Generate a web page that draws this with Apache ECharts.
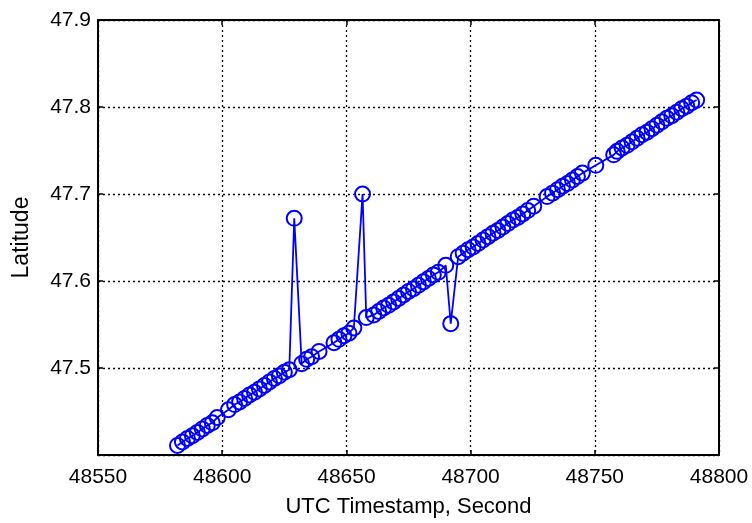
<!DOCTYPE html>
<html>
<head>
<meta charset="utf-8">
<script src="https://cdn.jsdelivr.net/npm/echarts@6/dist/echarts.min.js"></script>
<style>html,body{margin:0;padding:0;background:#fff}#c{width:752px;height:523px}</style>
</head>
<body>
<div id="c"></div>
<script>
// Data (UTC timestamp in seconds, latitude in degrees)
const timestamps = [48582,48584,48586,48588,48590,48592,48594,48596,48598,48602.5,48605,48607,48609,48611,48613,48615,48617,48619,48621,48623,48625,48627,48629,48632,48634,48636,48639,48645,48647,48649,48651,48653,48656.5,48658,48661,48663,48665,48667,48669,48671,48673,48675,48677,48679,48681,48683,48685,48687,48690,48692,48695,48697,48699,48701,48703,48705,48707,48709,48711,48713,48715,48717,48719,48721,48723,48725.4,48730.8,48733,48735,48737,48739,48741,48743,48745,48750.4,48757.6,48759,48761,48763,48765,48767,48769,48771,48773,48775,48777,48779,48781,48783,48785,48787,48789,48791];
const latitudes = [47.411,47.415,47.419,47.422,47.426,47.430,47.434,47.437,47.443,47.452,47.458,47.461,47.465,47.469,47.472,47.476,47.480,47.484,47.488,47.491,47.495,47.498,47.672,47.505,47.510,47.513,47.519,47.529,47.533,47.537,47.540,47.546,47.700,47.558,47.561,47.565,47.569,47.572,47.576,47.580,47.584,47.588,47.591,47.595,47.599,47.603,47.607,47.610,47.618,47.551,47.628,47.632,47.636,47.639,47.643,47.647,47.651,47.655,47.658,47.662,47.666,47.670,47.673,47.677,47.681,47.686,47.697,47.701,47.705,47.709,47.712,47.716,47.720,47.724,47.733,47.745,47.749,47.753,47.756,47.760,47.764,47.768,47.771,47.775,47.779,47.783,47.787,47.790,47.794,47.798,47.801,47.805,47.808];
const xTicks = [48550,48600,48650,48700,48750,48800];
const yTicks = [47.4,47.5,47.6,47.7,47.8,47.9];
const xTitle = 'UTC Timestamp, Second';
const yTitle = 'Latitude';

const FONT = 'Liberation Sans, Arial, sans-serif';
const chart = echarts.init(document.getElementById('c'), null, {renderer:'canvas'});
const xMin = xTicks[0], xMax = xTicks[xTicks.length-1], xInt = xTicks[1]-xTicks[0];
const yMin = yTicks[0], yMax = yTicks[yTicks.length-1];
const lbl = {color:'#000', fontFamily:FONT, fontSize:21};
const axisCommon = {
  axisLine:{show:true, onZero:false, lineStyle:{color:'#000', width:2}},
  axisTick:{show:true, inside:true, length:5, lineStyle:{color:'#000', width:1.5}},
  splitLine:{show:false}
};
chart.setOption({
  animation:false,
  backgroundColor:'#fff',
  grid:{left:98, top:20, right:33, bottom:68, containLabel:false},
  xAxis:[
    Object.assign({type:'value', min:xMin, max:xMax, interval:xInt, position:'bottom',
      name:xTitle, nameLocation:'middle', nameGap:41,
      nameTextStyle:{color:'#000', fontFamily:FONT, fontSize:22},
      axisLabel:Object.assign({margin:12, formatter:v=>String(v)}, lbl)}, axisCommon,
      {splitLine:{show:true, lineStyle:{color:'#000', type:[2,3], width:1.3}}}),
    Object.assign({type:'value', min:xMin, max:xMax, interval:xInt, position:'top',
      axisLabel:{show:false}}, axisCommon)
  ],
  yAxis:[
    Object.assign({type:'value', min:yMin, max:yMax, interval:0.1, position:'left',
      name:yTitle, nameLocation:'middle', nameGap:65,
      nameTextStyle:{color:'#000', fontFamily:FONT, fontSize:23},
      axisLabel:Object.assign({margin:7, showMinLabel:false, formatter:v=>v.toFixed(1)}, lbl)}, axisCommon,
      {splitLine:{show:true, lineStyle:{color:'#000', type:[2,3], width:1.3}}}),
    Object.assign({type:'value', min:yMin, max:yMax, interval:0.1, position:'right',
      axisLabel:{show:false}}, axisCommon)
  ],
  series:[{
    type:'line',
    data:timestamps.map((t,i)=>[t, latitudes[i]]),
    symbol:'circle',
    symbolSize:15,
    showAllSymbol:true,
    lineStyle:{color:'#0000ff', width:1.8},
    itemStyle:{color:'rgba(0,0,0,0)', borderColor:'#0000ff', borderWidth:2},
    z:5
  }]
});
</script>
</body>
</html>
